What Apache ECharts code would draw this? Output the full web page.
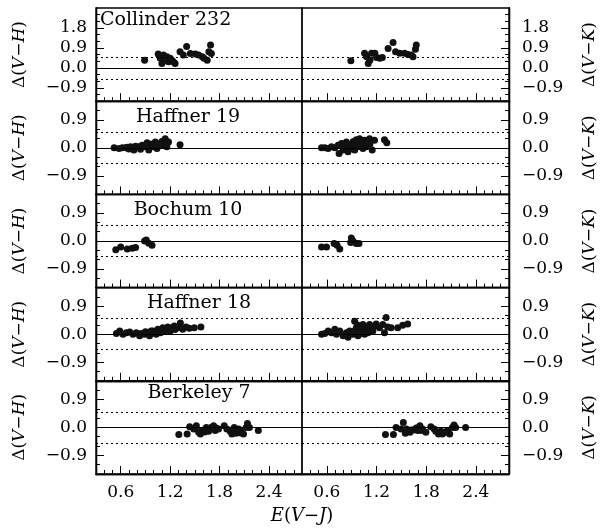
<!DOCTYPE html>
<html>
<head>
<meta charset="utf-8">
<script src="https://cdn.jsdelivr.net/npm/echarts@6/dist/echarts.min.js"></script>
<style>
  html, body { margin: 0; padding: 0; background: #fff; }
  #chart { width: 602px; height: 529px; }
</style>
</head>
<body>
<div id="chart"></div>
<script>
'use strict';

// cluster names, top to bottom
var clusters = ['Collinder 232', 'Haffner 19', 'Bochum 10', 'Haffner 18', 'Berkeley 7'];

// tick values
var xMajor = [0.6, 1.2, 1.8, 2.4];
var xMinor = [0.4, 0.5, 0.7, 0.8, 0.9, 1.0, 1.1, 1.3, 1.4, 1.5, 1.6, 1.7, 1.9, 2.0, 2.1, 2.2, 2.3, 2.5, 2.6, 2.7];
var yMajorTop = [-0.9, 0, 0.9, 1.8];
var yMinorTop = [-1.2, -0.6, -0.3, 0.3, 0.6, 1.2, 1.5, 2.1, 2.4];
var yMajor = [-0.9, 0, 0.9];
var yMinor = [-1.2, -0.6, -0.3, 0.3, 0.6, 1.2];

// E(V-J) vs Delta(V-H) / Delta(V-K)
var col232VH = [[0.89, 0.35], [1.055, 0.63], [1.08, 0.43], [1.10, 0.20], [1.12, 0.58], [1.14, 0.35], [1.16, 0.50], [1.18, 0.28],
  [1.20, 0.43], [1.22, 0.35], [1.24, 0.28], [1.26, 0.20], [1.32, 0.73], [1.36, 0.58], [1.40, 0.96], [1.445, 0.65],
  [1.505, 0.63], [1.545, 0.58], [1.59, 0.50], [1.61, 0.43], [1.65, 0.35], [1.67, 0.73], [1.69, 1.03], [1.70, 0.65]];
var col232VK = [[0.89, 0.32], [1.056, 0.66], [1.08, 0.50], [1.10, 0.20], [1.12, 0.35], [1.14, 0.66], [1.18, 0.66], [1.20, 0.47],
  [1.24, 0.43], [1.27, 0.47], [1.34, 0.88], [1.40, 1.14], [1.43, 0.73], [1.48, 0.66], [1.54, 0.66], [1.58, 0.61],
  [1.62, 0.58], [1.64, 0.50], [1.67, 0.84], [1.68, 1.03]];

var haf19VH = [[0.52, 0], [0.58, -0.02], [0.62, 0], [0.66, 0], [0.68, 0.02], [0.70, -0.04], [0.72, 0.03], [0.74, 0.0],
  [0.76, -0.07], [0.78, 0.05], [0.82, 0.03], [0.84, -0.05], [0.86, 0.08], [0.88, 0.03], [0.90, 0.06], [0.92, 0.16],
  [0.94, -0.07], [0.96, 0.08], [0.98, 0.12], [1.00, 0.03], [1.02, 0.19], [1.04, -0.02], [1.06, 0.08], [1.08, 0.14],
  [1.10, 0.20], [1.12, 0.08], [1.14, 0.29], [1.16, 0.03], [1.18, 0.19], [1.32, 0.10]];
var haf19VK = [[0.536, 0], [0.576, 0], [0.616, -0.02], [0.656, 0.03], [0.696, 0], [0.736, 0.08], [0.748, -0.18], [0.776, 0.14],
  [0.796, -0.07], [0.816, 0.03], [0.836, 0.19], [0.856, -0.125], [0.876, 0.08], [0.88, 0.10], [0.896, -0.02], [0.916, 0.14],
  [0.92, 0.20], [0.936, -0.07], [0.956, 0.26], [0.976, 0.03], [0.98, 0.18], [0.996, 0.29], [1.00, 0.10], [1.016, 0.14],
  [1.036, -0.02], [1.04, 0.12], [1.056, 0.24], [1.076, 0.03], [1.096, 0.19], [1.116, 0.29], [1.12, 0.12], [1.148, -0.07],
  [1.176, 0.24], [1.296, 0.26], [1.324, 0.16]];

var boc10VH = [[0.54, -0.28], [0.60, -0.19], [0.68, -0.26], [0.74, -0.23], [0.78, -0.21], [0.89, 0], [0.91, 0.03],
  [0.94, -0.07], [0.98, -0.14]];
var boc10VK = [[0.536, -0.19], [0.596, -0.19], [0.688, -0.08], [0.724, -0.135], [0.756, -0.26], [0.888, -0.05],
  [0.896, 0.10], [0.916, 0], [0.956, -0.08], [0.988, -0.08]];

var haf18VH = [[0.548, 0.02], [0.588, 0.10], [0.628, 0], [0.669, 0.05], [0.709, 0.07], [0.749, 0], [0.789, 0.05],
  [0.829, -0.05], [0.849, 0.02], [0.889, 0], [0.90, 0.08], [0.929, 0.05], [0.95, -0.05], [0.97, 0.10], [0.99, 0.10],
  [1.01, 0.05], [1.03, 0], [1.05, 0.16], [1.06, 0.08], [1.082, 0.05], [1.11, 0.21], [1.13, 0.10], [1.15, 0.12],
  [1.171, 0.23], [1.191, 0.16], [1.20, 0.10], [1.219, 0.21], [1.251, 0.26], [1.26, 0.15], [1.292, 0.21], [1.324, 0.36],
  [1.352, 0.16], [1.392, 0.23], [1.432, 0.19], [1.493, 0.21], [1.573, 0.23]];
var haf18VK = [[0.536, 0], [0.576, 0.02], [0.616, 0.10], [0.656, 0.05], [0.696, 0.16], [0.716, 0], [0.756, 0.10],
  [0.796, -0.05], [0.836, 0.05], [0.856, -0.10], [0.876, 0.10], [0.90, 0.05], [0.916, 0], [0.936, 0.42], [0.94, 0.12],
  [0.956, 0.21], [0.97, 0.30], [0.976, -0.05], [0.996, 0.26], [1.00, 0.10], [1.016, 0.05], [1.02, 0.02], [1.036, 0.31],
  [1.056, 0], [1.06, 0.15], [1.076, 0.21], [1.096, 0.05], [1.10, 0.20], [1.116, 0.31], [1.136, 0.16], [1.156, 0.10],
  [1.176, 0.26], [1.196, 0.33], [1.236, 0.21], [1.276, 0.31], [1.296, 0.05], [1.316, 0.54], [1.336, 0.23],
  [1.376, 0.21], [1.456, 0.21], [1.516, 0.29], [1.576, 0.33]];

var ber7VH = [[1.305, -0.23], [1.406, -0.21], [1.437, 0.02], [1.486, -0.05], [1.518, 0.05], [1.546, -0.16], [1.566, -0.21],
  [1.58, -0.10], [1.606, -0.08], [1.62, -0.15], [1.639, 0], [1.667, -0.125], [1.695, 0], [1.727, 0.05], [1.747, -0.10],
  [1.76, -0.02], [1.787, -0.05], [1.856, 0.05], [1.888, -0.05], [1.928, -0.125], [1.949, -0.21], [1.977, 0],
  [1.98, -0.12], [2.001, -0.19], [2.029, -0.05], [2.058, -0.125], [2.06, -0.18], [2.09, -0.21], [2.122, 0],
  [2.138, 0.125], [2.162, 0], [2.27, -0.10]];
var ber7VK = [[1.308, -0.23], [1.404, -0.23], [1.436, 0], [1.496, -0.05], [1.524, 0.16], [1.548, -0.19], [1.56, -0.05],
  [1.576, -0.10], [1.604, -0.16], [1.62, -0.08], [1.644, -0.08], [1.68, -0.02], [1.696, -0.10], [1.724, 0.05],
  [1.74, -0.10], [1.756, -0.05], [1.796, -0.16], [1.856, 0.02], [1.896, -0.05], [1.916, -0.125], [1.948, -0.21],
  [1.976, -0.125], [1.996, -0.21], [2.00, -0.16], [2.028, -0.16], [2.056, -0.10], [2.084, -0.21], [2.116, 0],
  [2.136, 0.08], [2.156, 0], [2.276, 0]];

var vhData = [col232VH, haf19VH, boc10VH, haf18VH, ber7VH];
var vkData = [col232VK, haf19VK, boc10VK, haf18VK, ber7VK];

var FONT = 'DejaVu Serif';
var rowTop = 8, rowH = 93.2;

function fmt(v) {
  var s = Math.abs(v).toFixed(1);
  return v < 0 ? '\u2212' + s : s;
}

// axis line drawn on top of the grid border, so ticks are rendered
var frameLine = { show: true, onZero: false, lineStyle: { color: '#000', width: 1.3 } };

var grids = [], xAxes = [], yAxes = [], series = [], graphics = [];

for (var i = 0; i < 5; i++) {
  var isTop = i === 0;
  var yMin = -1.5, yMax = isTop ? 2.7 : 1.5;
  var majors = isTop ? yMajorTop : yMajor;
  var minors = isTop ? yMinorTop : yMinor;

  for (var side = 0; side < 2; side++) {
    var g = grids.length;
    grids.push({
      left: side === 0 ? 96 : 302,
      width: side === 0 ? 206 : 207,
      top: rowTop + i * rowH,
      height: rowH,
      show: true,
      borderColor: '#000',
      borderWidth: 1.3,
      backgroundColor: 'transparent'
    });

    // x: major + minor ticks
    xAxes.push({
      type: 'value', gridIndex: g, min: 0.3, max: 2.8, position: 'bottom',
      axisLine: frameLine, splitLine: { show: false },
      axisTick: { show: true, inside: true, length: 8, customValues: xMajor, lineStyle: { color: '#000', width: 1 } },
      axisLabel: {
        show: i === 4, customValues: xMajor, margin: 10, color: '#000',
        fontFamily: FONT, fontSize: 17, formatter: fmt
      }
    });
    xAxes.push({
      type: 'value', gridIndex: g, min: 0.3, max: 2.8, position: 'bottom',
      axisLine: frameLine, splitLine: { show: false },
      axisTick: { show: true, inside: true, length: 4, customValues: xMinor, lineStyle: { color: '#000', width: 1 } },
      axisLabel: { show: false }
    });

    var pos = side === 0 ? 'left' : 'right';
    var letter = side === 0 ? 'H' : 'K';
    yAxes.push({
      type: 'value', gridIndex: g, min: yMin, max: yMax, position: pos,
      axisLine: frameLine, splitLine: { show: false },
      axisTick: { show: true, inside: true, length: 8, customValues: majors, lineStyle: { color: '#000', width: 1 } },
      axisLabel: {
        customValues: majors, margin: side === 0 ? 9 : 13, color: '#000',
        fontFamily: FONT, fontSize: 17, formatter: fmt
      },
      name: '{n|\u0394(}{i|V}{n|\u2212}{i|' + letter + '}{n|)}',
      nameLocation: 'middle',
      nameRotate: 90,
      nameGap: side === 0 ? 68 : 72,
      nameTextStyle: {
        rich: {
          n: { fontFamily: FONT, fontSize: 17, color: '#000' },
          i: { fontFamily: FONT, fontSize: 17, fontStyle: 'italic', color: '#000' }
        }
      }
    });
    yAxes.push({
      type: 'value', gridIndex: g, min: yMin, max: yMax, position: pos,
      axisLine: frameLine, splitLine: { show: false },
      axisTick: { show: true, inside: true, length: 4, customValues: minors, lineStyle: { color: '#000', width: 1 } },
      axisLabel: { show: false }
    });

    series.push({
      type: 'scatter',
      xAxisIndex: 2 * g,
      yAxisIndex: 2 * g,
      data: side === 0 ? vhData[i] : vkData[i],
      symbolSize: 7,
      itemStyle: { color: '#111', opacity: 1 },
      markLine: {
        silent: true,
        symbol: 'none',
        label: { show: false },
        data: [
          { yAxis: 0, lineStyle: { type: 'solid', width: 1, color: '#000' } },
          { yAxis: 0.5, lineStyle: { type: [2, 3], width: 1.2, color: '#000' } },
          { yAxis: -0.5, lineStyle: { type: [2, 3], width: 1.2, color: '#000' } }
        ]
      }
    });
  }
}

// cluster labels
var labelPos = [[100, 20, 'left'], [188, 117, 'center'], [188, 210, 'center'], [199, 303, 'center'], [199, 393, 'center']];
for (var k = 0; k < clusters.length; k++) {
  graphics.push({
    type: 'text',
    x: labelPos[k][0],
    y: labelPos[k][1],
    style: {
      text: clusters[k],
      font: '19px "' + FONT + '"',
      fill: '#000',
      align: labelPos[k][2],
      verticalAlign: 'middle'
    }
  });
}

// x axis title
graphics.push({
  type: 'text',
  x: 302,
  y: 516,
  style: {
    text: '{i|E}{n|(}{i|V}{n|\u2212}{i|J}{n|)}',
    align: 'center',
    verticalAlign: 'middle',
    rich: {
      n: { fontFamily: FONT, fontSize: 18, fill: '#000' },
      i: { fontFamily: FONT, fontSize: 18, fontStyle: 'italic', fill: '#000' }
    }
  }
});

var option = {
  animation: false,
  backgroundColor: '#fff',
  grid: grids,
  xAxis: xAxes,
  yAxis: yAxes,
  series: series,
  graphic: graphics
};

var myChart = echarts.init(document.getElementById('chart'), null, { renderer: 'canvas' });
myChart.setOption(option);
</script>
</body>
</html>
